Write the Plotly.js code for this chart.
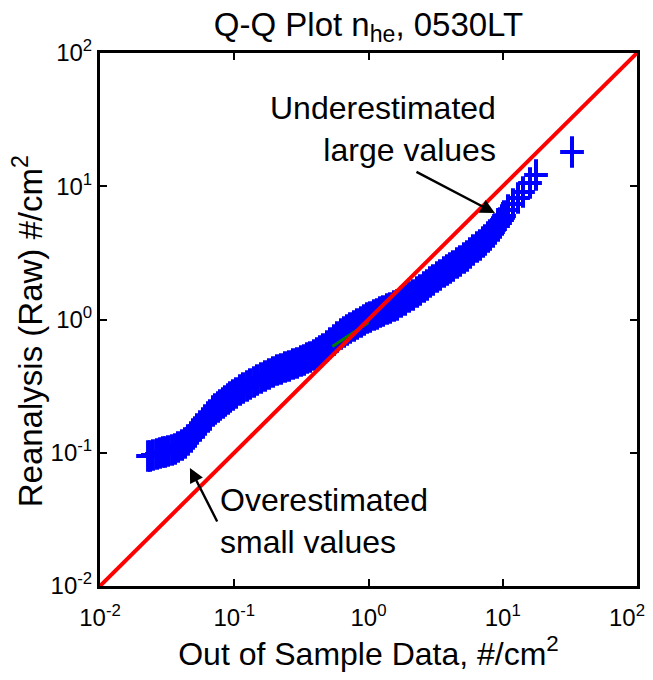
<!DOCTYPE html>
<html>
<head>
<meta charset="utf-8">
<script src="https://cdn.plot.ly/plotly-3.0.1.min.js"></script>
<style>html,body{margin:0;padding:0;background:#fff;}#chart{width:653px;height:680px;}</style>
</head>
<body>
<div id="chart"></div>
<script>
// Q-Q plot quantiles
var outOfSample = [
  0.0228, 0.02358, 0.0248, 0.02658, 0.0280, 0.02947, 0.0305, 0.0321, 0.0344, 0.0362,
  0.0381, 0.0408, 0.04297, 0.0452, 0.04763, 0.0493, 0.05102, 0.0528, 0.0556, 0.05851,
  0.0606, 0.06376, 0.0660, 0.06946, 0.0719, 0.07568, 0.0783, 0.08246, 0.0853, 0.08983,
  0.0930, 0.09788, 0.1031, 0.1104, 0.1162, 0.1245, 0.1310, 0.1404, 0.1477, 0.1583,
  0.1695, 0.1815, 0.1944, 0.2082, 0.2230, 0.2388, 0.2558, 0.2739, 0.2934, 0.3142,
  0.3308, 0.3483, 0.3667, 0.3927, 0.4134, 0.4353, 0.4583, 0.4908, 0.5167, 0.5534,
  0.5827, 0.6241, 0.6570, 0.6917, 0.7281, 0.7798, 0.8210, 0.8793, 0.9257, 0.9746,
  1.026, 1.099, 1.157, 1.218, 1.282, 1.373, 1.446, 1.549, 1.630, 1.746,
  1.870, 2.003, 2.145, 2.298, 2.419, 2.591, 2.728, 2.871, 3.024, 3.237,
  3.409, 3.651, 3.843, 4.046, 4.260, 4.562, 4.804, 5.144, 5.416, 5.702,
  6.004, 6.430, 6.769, 7.128, 7.376, 7.765, 8.036, 8.459, 8.756, 9.215,
  9.539, 9.872, 10.22, 10.94, 11.92, 12.99, 14.15, 15.96, 17.69, 32.80];
var reanalysis = [
  0.0945, 0.0945, 0.0962, 0.0979, 0.0996, 0.1013, 0.1013, 0.1031, 0.1049, 0.1067,
  0.1105, 0.1143, 0.1184, 0.1247, 0.1313, 0.1383, 0.1431, 0.1508, 0.1588, 0.1672,
  0.1761, 0.1855, 0.1920, 0.2058, 0.2130, 0.2205, 0.2282, 0.2363, 0.2445, 0.2532,
  0.2621, 0.2713, 0.2808, 0.2958, 0.3061, 0.3170, 0.3280, 0.3396, 0.3515, 0.3639,
  0.3767, 0.3899, 0.4037, 0.4178, 0.4252, 0.4401, 0.4478, 0.4636, 0.4717, 0.4882,
  0.4967, 0.5141, 0.5231, 0.5415, 0.5606, 0.5804, 0.6006, 0.6326, 0.6661, 0.7018,
  0.7390, 0.7784, 0.8058, 0.8342, 0.8635, 0.8939, 0.9252, 0.9578, 0.9914, 1.026,
  1.044, 1.081, 1.100, 1.138, 1.158, 1.199, 1.220, 1.263, 1.285, 1.353,
  1.401, 1.476, 1.527, 1.608, 1.665, 1.754, 1.815, 1.912, 1.979, 2.084,
  2.158, 2.273, 2.352, 2.435, 2.520, 2.655, 2.748, 2.894, 2.996, 3.156,
  3.323, 3.500, 3.623, 3.816, 3.950, 4.160, 4.306, 4.536, 4.777, 5.031,
  5.298, 5.581, 5.981, 6.634, 7.359, 8.162, 9.053, 10.58, 12.15, 18.07];
// quartile fit segment (green) and 1:1 reference line (red)
var fitX = [0.538, 1.0];
var fitY = [0.626, 0.949];
var refX = [0.01, 100];
var refY = [0.01, 100];
// tick labels
var tickVals = [0.01, 0.1, 1, 10, 100];
var yTickText = ['10<sup>-2</sup>', '10<sup>-1</sup>', '10<sup>0</sup>', '10<sup>1</sup>', '10<sup>2</sup>'];
var xTickText = ['10<sup>-2</sup>', '10<sup>-1</sup>', '10<sup>0</sup>', '10<sup>1</sup>', '10<sup>2</sup>\u00a0\u00a0\u00a0'];
var titleText = 'Q-Q Plot n<sub>he</sub>, 0530LT';
var xTitle = 'Out of Sample Data, #/cm<sup>2</sup>';
var yTitle = 'Reanalysis (Raw) #/cm<sup>2</sup>';

var FONT = 'Liberation Sans, Arial, Helvetica, sans-serif';
var blue = '#0000ff';

var traces = [
  {x: outOfSample, y: reanalysis, type: 'scatter', mode: 'markers', hoverinfo: 'skip',
   marker: {symbol: 'line-ns', size: 22.5, color: blue, line: {color: blue, width: 4}}},
  {x: outOfSample, y: reanalysis, type: 'scatter', mode: 'markers', hoverinfo: 'skip',
   marker: {symbol: 'line-ew', size: 17, color: blue, line: {color: blue, width: 4}}},
  {x: fitX, y: fitY, type: 'scatter', mode: 'lines', line: {color: '#008000', width: 3}},
  {x: refX, y: refY, type: 'scatter', mode: 'lines', line: {color: '#ff0000', width: 4}}
];

function axisBase(ticktext) {
  return {
    type: 'log', range: [-2, 2], tickmode: 'array', tickvals: tickVals, ticktext: ticktext,
    ticks: 'inside', ticklen: 7, tickwidth: 2, tickcolor: '#000',
    showline: true, linewidth: 3, linecolor: '#000', mirror: 'ticks',
    showgrid: false, zeroline: false, automargin: false, ticklabeloverflow: 'allow',
    tickfont: {family: FONT, size: 24, color: '#000'}
  };
}
var xaxis = axisBase(xTickText);
xaxis.ticklabelstandoff = 8;
xaxis.title = {text: xTitle, font: {family: FONT, size: 32, color: '#000'}, standoff: 13};
var yaxis = axisBase(yTickText);

var layout = {
  width: 653, height: 680, autosize: false,
  margin: {l: 100, r: 16, t: 53, b: 94, pad: 0},
  paper_bgcolor: '#fff', plot_bgcolor: '#fff',
  showlegend: false,
  font: {family: FONT, color: '#000'},
  title: {text: titleText, font: {family: FONT, size: 33, color: '#000'},
          x: 0.5, xref: 'paper', y: 1 - 24 / 680, yref: 'container', yanchor: 'middle'},
  xaxis: xaxis,
  yaxis: yaxis,
  annotations: [
    {text: yTitle, textangle: -90, xref: 'paper', yref: 'paper', x: -0.134, y: 0.478,
     xanchor: 'center', yanchor: 'middle', showarrow: false,
     font: {family: FONT, size: 33, color: '#000'}},
    {text: 'Underestimated<br>large values', xref: 'x', yref: 'y', x: 0.9646, y: 1.4297,
     xanchor: 'right', yanchor: 'middle', align: 'right', showarrow: false,
     font: {family: FONT, size: 32, color: '#000'}},
    {text: '', xref: 'x', yref: 'y', x: 0.942, y: 0.799, showarrow: true,
     ax: -80, ay: -42, arrowhead: 2, arrowsize: 1.2, arrowwidth: 2.4, arrowcolor: '#000'},
    {text: 'Overestimated<br>small values', xref: 'x', yref: 'y', x: -1.121, y: -1.5122,
     xanchor: 'left', yanchor: 'middle', align: 'left', showarrow: false,
     font: {family: FONT, size: 32, color: '#000'}},
    {text: '', xref: 'x', yref: 'y', x: -1.330, y: -1.114, showarrow: true,
     ax: 28, ay: 55, arrowhead: 2, arrowsize: 1.2, arrowwidth: 2.4, arrowcolor: '#000'}
  ]
};

Plotly.newPlot('chart', traces, layout, {displayModeBar: false, staticPlot: true});
</script>
</body>
</html>
